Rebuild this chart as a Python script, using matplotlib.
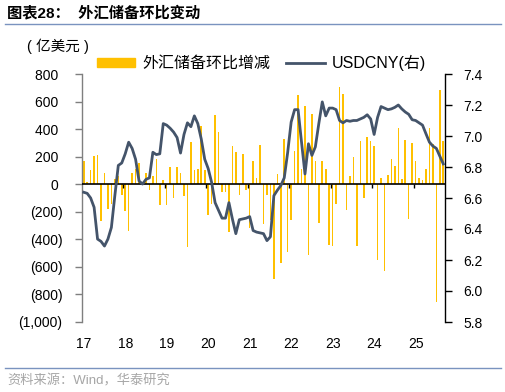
import numpy as np
import matplotlib
matplotlib.use("Agg")
import matplotlib.pyplot as plt
from matplotlib.patches import Patch
from matplotlib.lines import Line2D

plt.rcParams['font.family'] = ['Liberation Sans', 'Noto Sans CJK SC']
plt.rcParams['axes.unicode_minus'] = False

# Monthly data, Jan 2017 .. Sep 2025
reserve_change = [
    170, 15, 100, 203, 210, -269, 82, -177, -140, 40,
    60, -80, -195, -340, 82, 109, 152, 15, 85, -39,
    58, 182, -152, 34, -148, 126, -99, 126, 78, -87,
    -455, 308, 102, 107, 420, 102, -220, -142, 505, 380,
    -58, -58, -350, 280, 235, -78, 220, -42, -315, 172,
    44, 285, -286, -80, -262, -686, 75, -570, 325, -492,
    -260, 240, 650, 108, 570, -515, 508, 172, -282, 165,
    112, -444, -452, -141, 705, 657, -185, 63, 199, -445,
    313, -97, 340, 315, 280, -553, 46, -633, 65, 182,
    133, 410, 36, 320, -250, 301, 165, 46, 30, 114,
    410, 290, -856, 684, 315]

usdcny = [
    6.637, 6.63, 6.60, 6.54, 6.335, 6.32, 6.29, 6.335, 6.41, 6.615,
    6.81, 6.826, 6.885, 6.96, 6.92, 6.85, 6.71, 6.69, 6.72, 6.73,
    6.895, 6.88, 6.885, 7.08, 7.07, 7.05, 7.025, 6.99, 6.89, 7.01,
    7.085, 7.06, 7.13, 7.08, 6.98, 6.85, 6.79, 6.70, 6.57, 6.52,
    6.47, 6.47, 6.57, 6.465, 6.37, 6.46, 6.465, 6.47, 6.48, 6.39,
    6.38, 6.375, 6.37, 6.325, 6.35, 6.615, 6.65, 6.68, 6.73, 6.895,
    7.09, 7.17, 7.17, 6.96, 6.755, 6.95, 6.875, 6.93, 7.08, 7.22,
    7.13, 7.18, 7.18, 7.17, 7.10, 7.085, 7.10, 7.095, 7.10, 7.10,
    7.11, 7.12, 7.137, 7.11, 7.01, 7.12, 7.19, 7.18, 7.17, 7.175,
    7.185, 7.20, 7.175, 7.155, 7.14, 7.105, 7.10, 7.085, 7.07, 7.014,
    6.96, 6.935, 6.92, 6.87, 6.82]

year_labels = ['17', '18', '19', '20', '21', '22', '23', '24', '25']
left_ticks = [-1000, -800, -600, -400, -200, 0, 200, 400, 600, 800]
right_ticks = [5.8, 6.0, 6.2, 6.4, 6.6, 6.8, 7.0, 7.2, 7.4]

BAR_C = '#FFC000'
LINE_C = '#44546A'
RULE_C = '#7A93BF'

W, H = 506, 392
fig = plt.figure(figsize=(W / 100, H / 100), dpi=100)
ax = fig.add_axes([82 / W, 1 - 322 / H, (445 - 82) / W, (322 - 74) / H])

n = len(reserve_change)
x = np.arange(n)
ax.bar(x, reserve_change, width=0.45, color=BAR_C, zorder=2)
ax.axhline(0, color='black', lw=1.2, zorder=3)
ax.set_xlim(-0.5, n - 0.5)
ax.set_ylim(-1000, 800)

# year boundary ticks on the zero line
ax.vlines(np.arange(12, n, 12) - 0.5, -24, 0, color='black', lw=1, zorder=3)

ax.set_xticks(np.arange(0, n, 12)[:len(year_labels)])
ax.set_xticklabels(year_labels)
ax.tick_params(axis='x', length=0, pad=11, labelsize=10)

def fmt(v):
    return f"({abs(v):,})" if v < 0 else f"{v:,} "
ax.set_yticks(left_ticks)
ax.set_yticklabels([fmt(v) for v in left_ticks])
ax.tick_params(axis='y', direction='out', length=5, width=1, color='#7f7f7f',
               pad=9, labelsize=10)
for s in ['top', 'right', 'bottom']:
    ax.spines[s].set_visible(False)
ax.spines['left'].set_color('#7f7f7f')
ax.spines['left'].set_linewidth(1)

ax2 = ax.twinx()
ax2.plot(x, usdcny, color=LINE_C, lw=2, zorder=4)
ax2.set_ylim(5.8, 7.4)
ax2.set_yticks(right_ticks)
ax2.set_yticklabels([f"{v:.1f}" for v in right_ticks])
ax2.tick_params(axis='y', direction='out', length=5, width=1, color='black',
                pad=8, labelsize=10)
for s in ['top', 'left', 'bottom']:
    ax2.spines[s].set_visible(False)
ax2.spines['right'].set_color('black')
ax2.spines['right'].set_linewidth(1)

handles = [Patch(color=BAR_C), Line2D([], [], color=LINE_C, lw=2)]
fig.legend(handles, ['外汇储备环比增减', 'USDCNY(右)'], ncol=2, frameon=False,
           loc='center left', bbox_to_anchor=(97 / W, 1 - 63 / H),
           fontsize=11.5, handlelength=2.4, handleheight=0.45,
           handletextpad=0.45, columnspacing=1.0, borderpad=0, borderaxespad=0)

fig.text(7 / W, 1 - 13 / H, '图表28：  外汇储备环比变动', fontsize=11,
         fontweight='bold', va='center', ha='left')
fig.add_artist(Line2D([5 / W, 501 / W], [1 - 23.5 / H] * 2, color=RULE_C, lw=1,
                      transform=fig.transFigure))
fig.text(27 / W, 1 - 46 / H, '( 亿美元 )', fontsize=10.5, va='center', ha='left')
fig.add_artist(Line2D([5 / W, 501 / W], [1 - 367.5 / H] * 2, color=RULE_C, lw=1,
                      transform=fig.transFigure))
fig.text(7 / W, 1 - 381 / H, '资料来源：Wind，华泰研究', fontsize=9.5,
         color='#a6a6a6', va='center', ha='left')

fig.savefig('out.png', dpi=100)
